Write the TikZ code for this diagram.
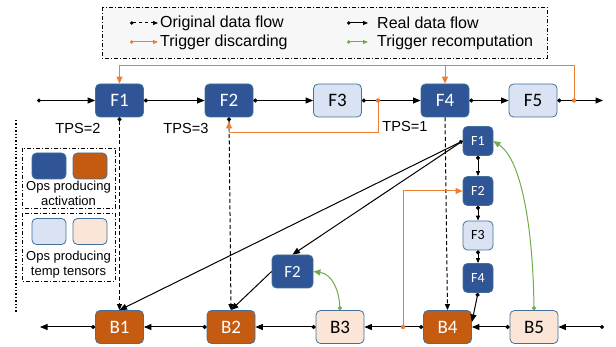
\documentclass[tikz,border=0pt]{standalone}
\usepackage{fontspec}
\setmainfont{Liberation Sans}
\newfontfamily\calfont{Carlito}
\usetikzlibrary{arrows.meta,calc}
\definecolor{dblue}{HTML}{2F5597}
\definecolor{brn}{HTML}{C55A11}
\definecolor{lblue}{HTML}{DAE3F3}
\definecolor{peach}{HTML}{FBE5D6}
\definecolor{bord}{HTML}{41719C}
\definecolor{org}{HTML}{ED7D31}
\definecolor{grn}{HTML}{70AD47}
\tikzset{
  opbox/.style={draw=bord, line width=0.8pt, rounded corners=4.5pt, inner sep=0pt},
  big/.style={opbox, minimum width=48pt, minimum height=33pt, font=\calfont\fontsize{19}{19}\selectfont},
  small/.style={opbox, minimum width=30pt, minimum height=29pt, font=\calfont\fontsize{14}{14}\selectfont},
  dk/.style={fill=dblue, text=white},
  act/.style={fill=brn, text=white},
  tmpf/.style={fill=lblue, text=black},
  tmpb/.style={fill=peach, text=black},
  ln/.style={line width=1pt},
  tip/.style={ln, -{Triangle[length=7.5pt,width=6pt]}},
  dtip/.style={ln, {Circle[length=4pt]}-{Triangle[length=7.5pt,width=6pt]}},
  stip/.style={ln, {Circle[length=4pt]}-{Triangle[length=5pt,width=4pt]}},
  dashln/.style={ln, {Circle[length=4pt]}-{Triangle[length=6pt,width=5pt]}, dash pattern=on 4pt off 2.5pt},
  orng/.style={ln, draw=org, -{Triangle[length=7pt,width=6pt]}},
  grnl/.style={ln, draw=grn, {Circle[length=4pt]}-{Triangle[length=7pt,width=6pt]}},
  odot/.style={circle, fill=org, inner sep=0pt, minimum size=4.5pt},
  dashdot/.style={line width=0.8pt, dash pattern=on 4pt off 2pt on 1pt off 2pt},
  lgtext/.style={anchor=west, font=\fontsize{16}{16}\selectfont, inner sep=0pt},
  tps/.style={font=\fontsize{14.6}{14.6}\selectfont, inner sep=0pt},
  oplbl/.style={font=\fontsize{13}{15.5}\selectfont, align=center, inner sep=0pt},
  sq/.style={opbox, minimum width=34pt, minimum height=26pt},
}
\begin{document}
\begin{tikzpicture}[x=1pt,y=-1pt]
\useasboundingbox (0,0) rectangle (616,347);
% legend
\draw[dashdot, fill=gray!6] (102,7) rectangle (547,58);
\coordinate (l1a) at (130,23); \coordinate (l1b) at (158,23);
\coordinate (l2a) at (347,23); \coordinate (l2b) at (368,23);
\coordinate (l3a) at (130,42); \coordinate (l3b) at (158,42);
\coordinate (l4a) at (347,42); \coordinate (l4b) at (368,42);
\draw[ln, dash pattern=on 3pt off 3pt, {Circle[length=3.5pt]}-{Triangle[length=5pt,width=4pt]}] (l1a) -- (l1b);
\draw[ln, {Circle[length=3.5pt]}-{Triangle[length=5pt,width=4pt]}] (l2a) -- (l2b);
\draw[ln, draw=org, {Circle[length=3.5pt,fill=org]}-{Triangle[length=5pt,width=4pt,fill=org]}] (l3a) -- (l3b);
\draw[ln, draw=grn, {Circle[length=3.5pt,fill=grn]}-{Triangle[length=5pt,width=4pt,fill=grn]}] (l4a) -- (l4b);
\node[lgtext] (t1) at (160,23) {Original data flow};
\node[lgtext] (t2) at (377,23) {Real data flow};
\node[lgtext] (t3) at (160,42) {Trigger discarding};
\node[lgtext] (t4) at (377,42) {Trigger recomputation};

% left legend
\draw[dotted, line width=1.4pt] (16,120) -- (16,313);
\draw[dashdot] (22,148) rectangle (115,208);
\draw[dashdot] (22,213) rectangle (115,281);
\node[sq, dk] (s1) at (49,166) {};
\node[sq, act] (s2) at (90,166) {};
\node[sq, tmpf] (s3) at (49,231.5) {};
\node[sq, tmpb] (s4) at (90,231.5) {};
\node[oplbl] (o1t) at (68.5,193.5) {Ops producing\\activation};
\node[oplbl] (o2t) at (68.5,264.5) {Ops producing\\temp tensors};

% top row
\node[big, dk] (F1) at (119.5,100.5) {F1};
\node[big, dk] (F2) at (229,100.5) {F2};
\node[big, tmpf] (F3) at (337.5,100.5) {F3};
\node[big, dk] (F4) at (445,100.5) {F4};
\node[big, tmpf] (F5) at (533,100.5) {F5};
\coordinate (in0) at (37,100.5);
\coordinate (out0) at (603,100.5);
\coordinate (od1) at (378,100.5);
\coordinate (od2) at (574,100.5);
\draw[dtip] (in0) -- (F1.west);
\draw[dtip] (F1.east) -- (F2.west);
\draw[dtip] (F2.east) -- (F3.west);
\draw[dtip] (F3.east) -- (F4.west);
\draw[dtip] (F4.east) -- (F5.west);
\draw[dtip] (F5.east) -- (out0);
\node[tps] (tp1) at (78,128) {TPS=2};
\node[tps] (tp2) at (186,128) {TPS=3};
\node[tps] (tp3) at (405,126) {TPS=1};

% bottom row
\node[big, act] (B1) at (119.5,327) {B1};
\node[big, act] (B2) at (231,327) {B2};
\node[big, tmpb] (B3) at (340,327) {B3};
\node[big, act] (B4) at (447.5,327) {B4};
\node[big, tmpb] (B5) at (534,327) {B5};
\coordinate (bin) at (604,327);
\coordinate (bout) at (40,327);
\coordinate (od3) at (403,327);
\draw[dtip] (bin) -- (B5.east);
\draw[dtip] (B5.west) -- (B4.east);
\draw[dtip] (B4.west) -- (B3.east);
\draw[dtip] (B3.west) -- (B2.east);
\draw[dtip] (B2.west) -- (B1.east);
\draw[dtip] (B1.west) -- (bout);

% small chain
\node[small, dk] (F1s) at (478,141) {F1};
\node[small, dk] (F2s) at (478,191) {F2};
\node[small, tmpf] (F3s) at (478,235.5) {F3};
\node[small, dk] (F4s) at (478,278) {F4};
\node[big, dk, minimum width=41pt, font=\calfont\fontsize{17}{17}\selectfont] (F2m) at (292.5,271.5) {F2};
\draw[stip] (F1s.south) -- (F2s.north);
\draw[stip] (F2s.south) -- (F3s.north);
\draw[stip] (F3s.south) -- (F4s.north);
\draw[dtip] (F4s.south) -- ($(B4.east)+(0,-5)$);

% dashed original flow
\draw[dashln] (F1.south) -- (B1.north);
\draw[dashln] (F2.south) -- (B2.north);
\draw[dashln, -{Triangle[length=6pt,width=5pt]}] (F4.south) -- (B4.north);

% real flow from F1s
\draw[dtip] (F1s.west) -- (B1.north);
\draw[tip] (F1s.west) -- (F2m.north);
\draw[tip] (F2m.west) -- (B2.north);

% orange discarding
\coordinate (oc1) at (574,66);
\coordinate (oc2) at (119.5,66);
\coordinate (oc3) at (445,66);
\draw[orng] (od2) -- (oc1) -- (oc2) -- (F1.north);
\draw[orng] (oc3) -- (F4.north);
\coordinate (oc4) at (378,133);
\coordinate (oc5) at (229,133);
\draw[orng] (od1) -- (oc4) -- (oc5) -- ($(F2.south)+(0,4)$);
\coordinate (oc6) at (403,191);
\draw[orng] (od3) -- (oc6) -- (F2s.west);
\node[odot] (d1) at (od1) {};
\node[odot] (d2) at (od2) {};
\node[odot] (d3) at (od3) {};

% green recomputation
\draw[grnl] (B3.north) .. controls (339,290) and (332,274) .. (F2m.east);
\draw[grnl] (B5.north) .. controls (533,230) and (522,160) .. (F1s.east);
\end{tikzpicture}
\end{document}
